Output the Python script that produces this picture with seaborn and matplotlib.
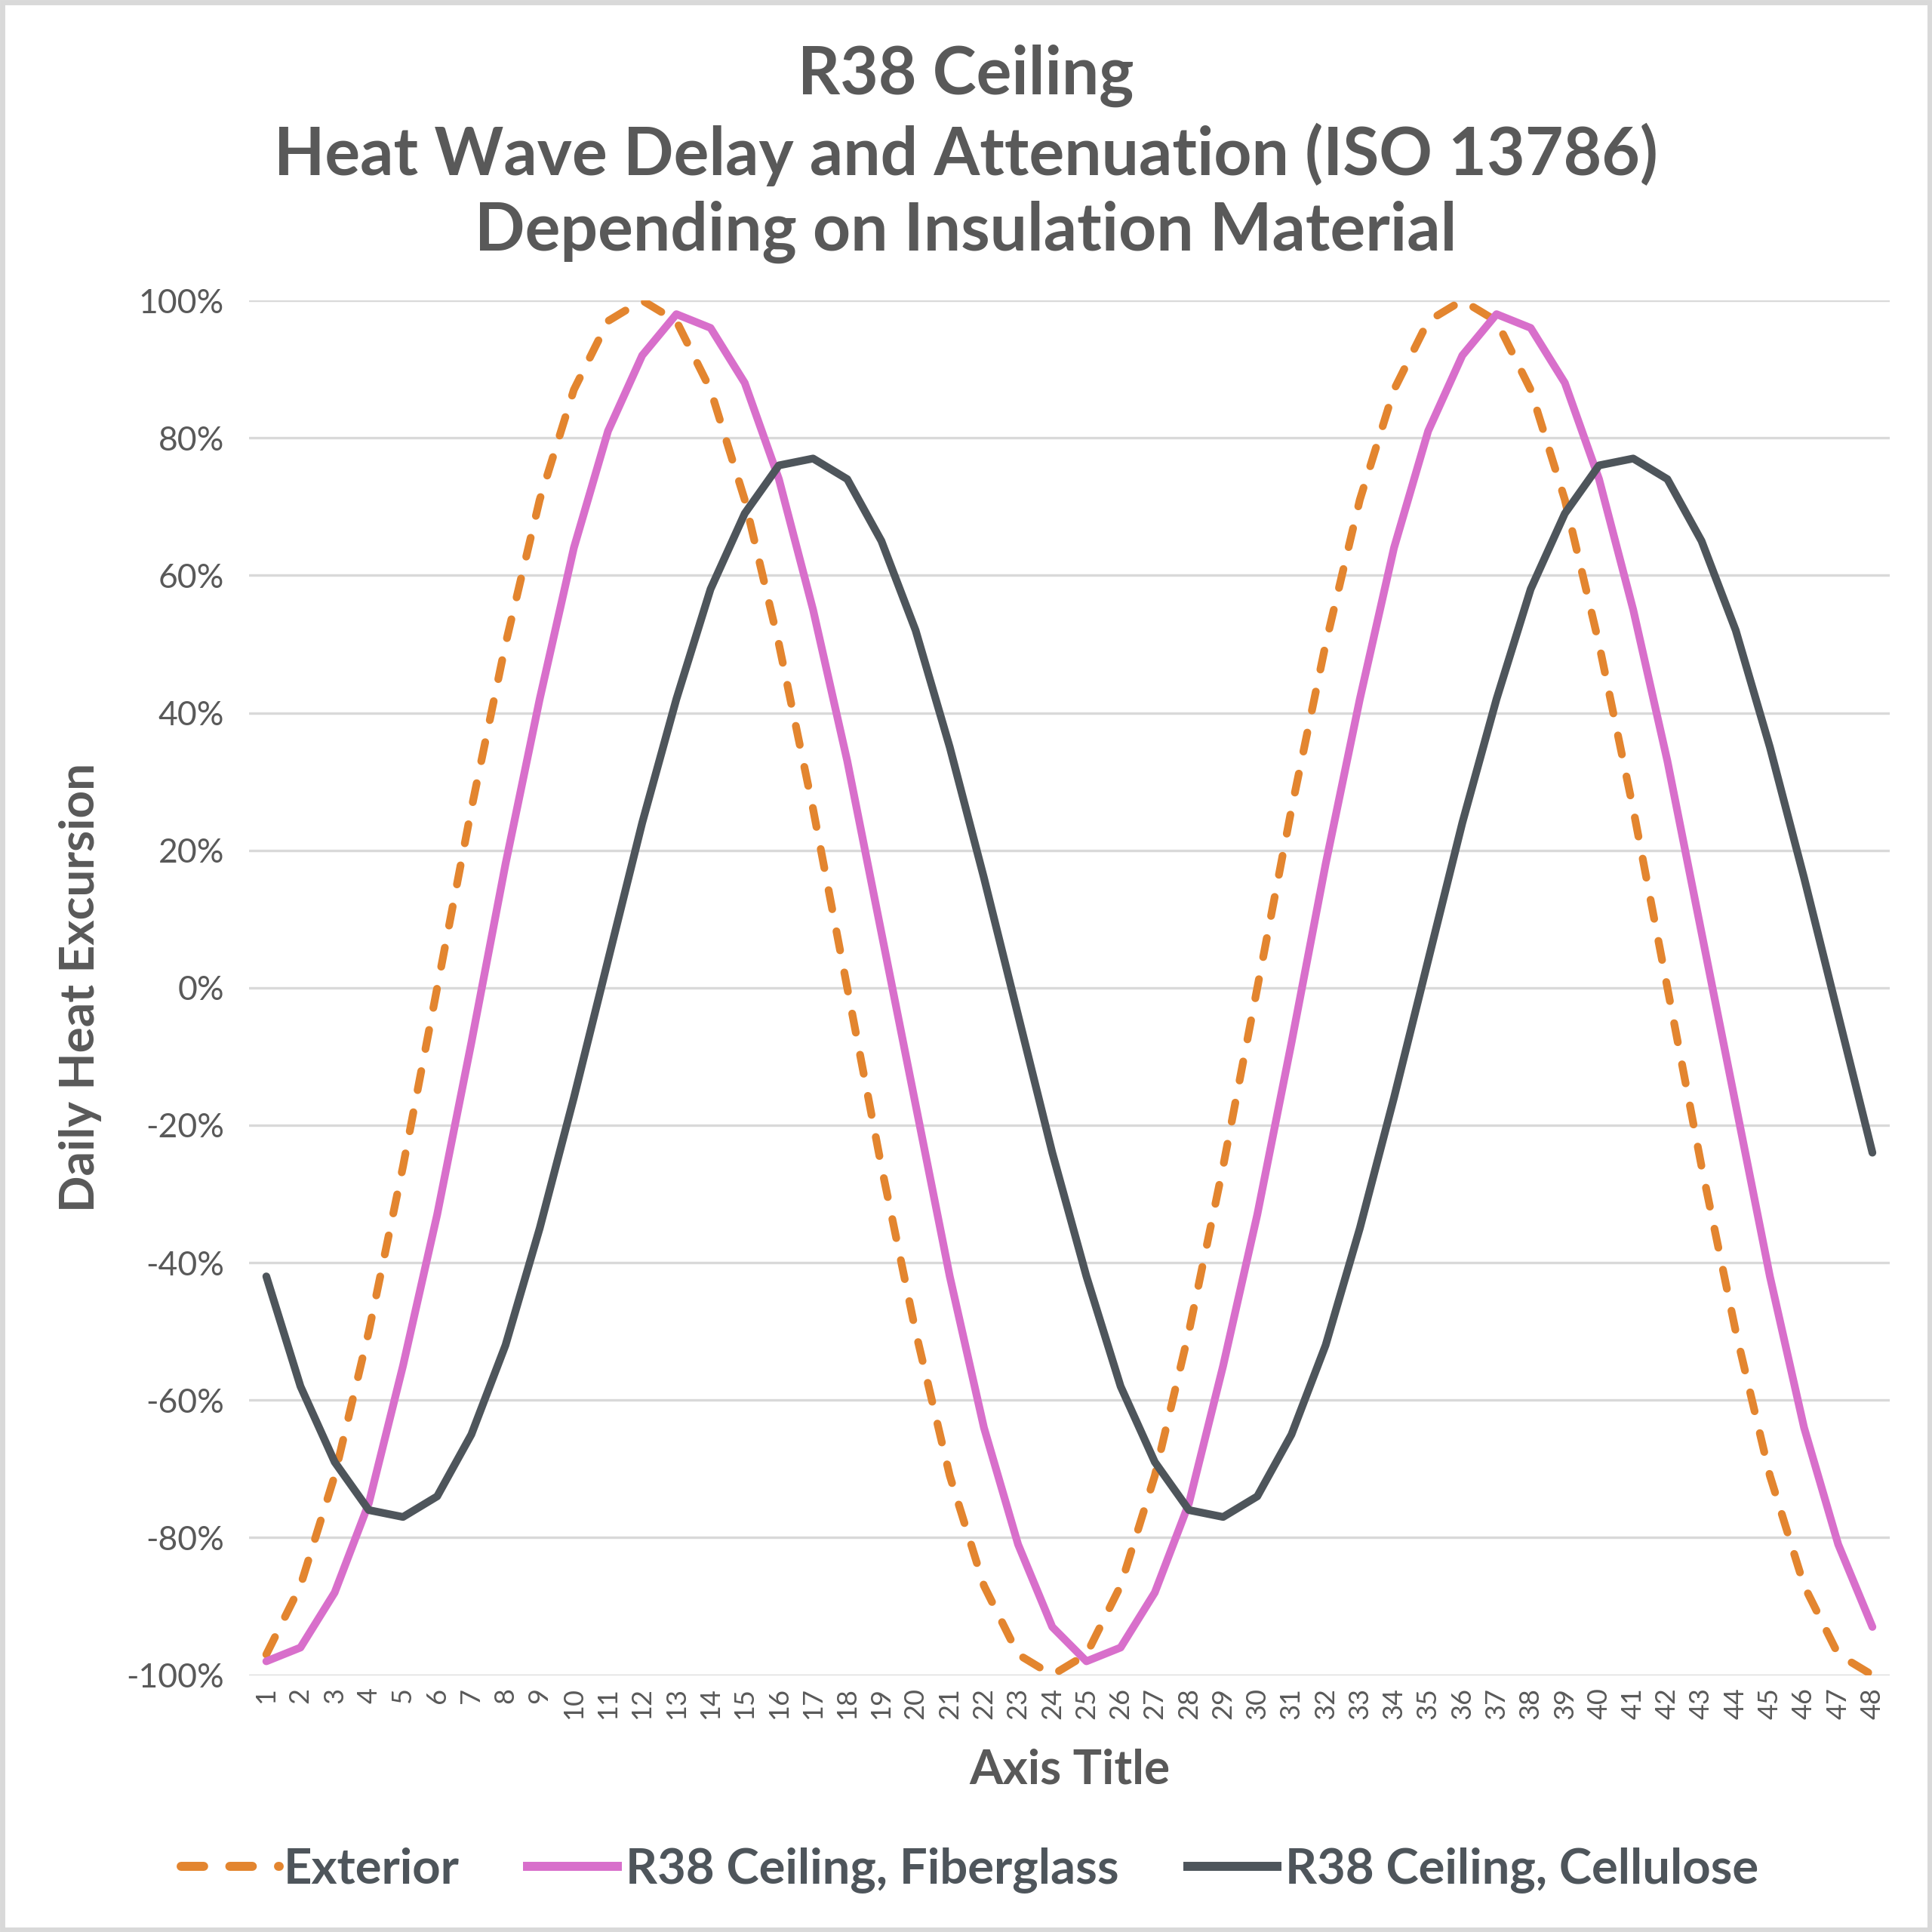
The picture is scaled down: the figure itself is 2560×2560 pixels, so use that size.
import pandas as pd
import seaborn as sns
import matplotlib.pyplot as plt
from matplotlib.ticker import FuncFormatter, MultipleLocator
from matplotlib.patches import Rectangle

sns.set_theme(style="white")
plt.rcParams['font.family'] = ['Lato', 'DejaVu Sans']

# hours of the two-day window
hours = list(range(1, 49))

# daily heat excursion, percent
exterior = [-97, -87, -71, -50, -26, 0, 26, 50, 71, 87, 97, 100,
            97, 87, 71, 50, 26, 0, -26, -50, -71, -87, -97, -100,
            -97, -87, -71, -50, -26, 0, 26, 50, 71, 87, 97, 100,
            97, 87, 71, 50, 26, 0, -26, -50, -71, -87, -97, -100]
fiberglass = [-98, -96, -88, -75, -55, -33, -8, 18, 42, 64, 81, 92,
              98, 96, 88, 74, 55, 33, 8, -17, -42, -64, -81, -93,
              -98, -96, -88, -75, -55, -33, -8, 18, 42, 64, 81, 92,
              98, 96, 88, 74, 55, 33, 8, -17, -42, -64, -81, -93]
cellulose = [-42, -58, -69, -76, -77, -74, -65, -52, -35, -16, 4, 24,
             42, 58, 69, 76, 77, 74, 65, 52, 35, 16, -4, -24,
             -42, -58, -69, -76, -77, -74, -65, -52, -35, -16, 4, 24,
             42, 58, 69, 76, 77, 74, 65, 52, 35, 16, -4, -24]

series_names = ["Exterior", "R38 Ceiling, Fiberglass", "R38 Ceiling, Cellulose"]
colors = ["#E3852F", "#D86FCB", "#4E555B"]

text_col = "#595959"

fig = plt.figure(figsize=(12.8, 12.8), dpi=200)
ax = fig.add_axes([0.129, 0.133, 0.849, 0.7115])

lw = 3.7
sns.lineplot(x=hours, y=exterior, ax=ax, color=colors[0], linewidth=lw,
             linestyle=(0, (2.5, 2.9)), dash_capstyle="round", label=series_names[0])
sns.lineplot(x=hours, y=fiberglass, ax=ax, color=colors[1], linewidth=lw,
             solid_joinstyle="round", label=series_names[1])
sns.lineplot(x=hours, y=cellulose, ax=ax, color=colors[2], linewidth=lw,
             solid_joinstyle="round", label=series_names[2])

ax.set_xlim(0.5, 48.5)
ax.set_ylim(-100, 100)
ax.yaxis.set_major_locator(MultipleLocator(20))
ax.yaxis.set_major_formatter(FuncFormatter(lambda v, p: f"{int(round(v))}%"))
ax.set_xticks(hours)
ax.set_xticklabels([str(h) for h in hours], rotation=90)
ax.grid(axis="y", color="#D9D9D9", linewidth=1.2)
ax.set_axisbelow(True)
for s in ax.spines.values():
    s.set_visible(False)
ax.tick_params(axis="y", labelsize=16, colors=text_col, pad=12, length=0)
ax.tick_params(axis="x", labelsize=13, colors=text_col, pad=6, length=0)

ax.set_ylabel("Daily Heat Excursion", fontsize=23, fontweight="bold", color=text_col)
ax.yaxis.set_label_coords(-0.09, 0.5)
ax.set_xlabel("Axis Title", fontsize=23, fontweight="bold", color=text_col, va="center")
ax.xaxis.set_label_coords(0.5, -0.069)

fig.text(0.5, 0.977, "R38 Ceiling\nHeat Wave Delay and Attenuation (ISO 13786)\nDepending on Insulation Material",
         ha="center", va="top", fontsize=31.5, fontweight="bold", color=text_col, linespacing=1.29)

handles, labels = ax.get_legend_handles_labels()
ax.get_legend().remove()
leg = fig.legend(handles, labels, loc="center", bbox_to_anchor=(0.502, 0.032), ncol=3,
                 frameon=False, prop={"size": 23.5, "weight": "bold"},
                 handlelength=2.0, handletextpad=0.08, columnspacing=1.3)
for t in leg.get_texts():
    t.set_color("#4E555B")
for h in leg.legend_handles:
    h.set_linewidth(4.3)
    h.set_dash_capstyle("round")
    h.set_solid_capstyle("butt")

fig.patches.append(Rectangle((0.001, 0.001), 0.998, 0.998, transform=fig.transFigure,
                             fill=False, edgecolor="#D9D9D9", linewidth=2.5))

fig.savefig("out.png", dpi=200)
